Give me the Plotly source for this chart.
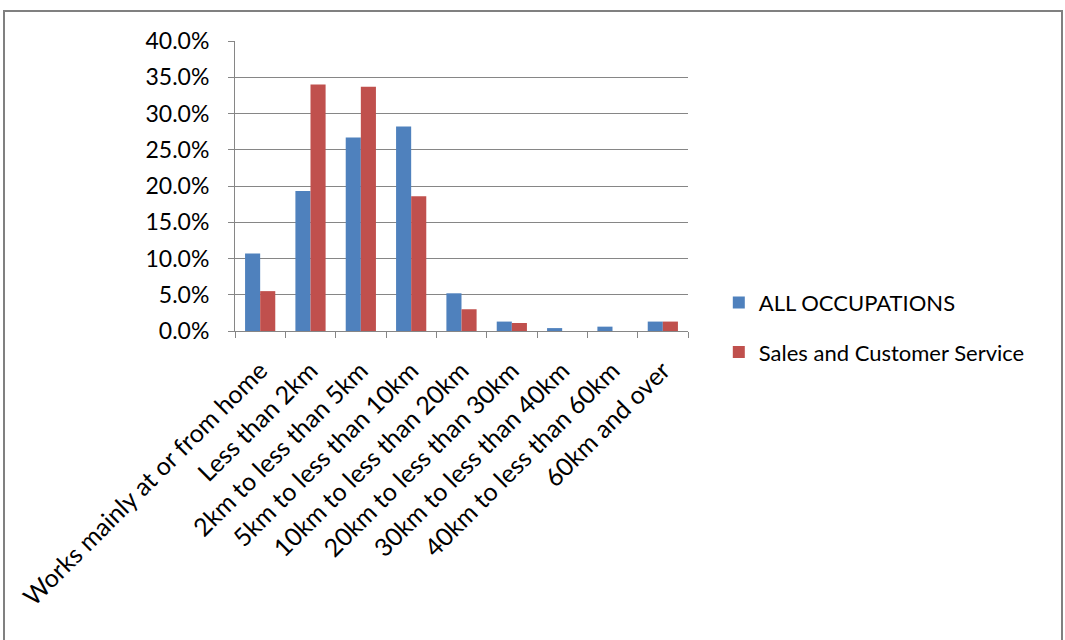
import plotly.graph_objects as go

categories = [
    "Works mainly at or from home",
    "Less than 2km",
    "2km to less than 5km",
    "5km to less than 10km",
    "10km to less than 20km",
    "20km to less than 30km",
    "30km to less than 40km",
    "40km to less than 60km",
    "60km and over",
]
all_occupations = [0.107, 0.193, 0.267, 0.282, 0.052, 0.013, 0.004, 0.006, 0.013]
sales_customer = [0.055, 0.340, 0.337, 0.186, 0.030, 0.011, 0.0, 0.0, 0.013]
y_ticks = [0, 0.05, 0.10, 0.15, 0.20, 0.25, 0.30, 0.35, 0.40]

FONT = "Lato"

fig = go.Figure()
fig.add_trace(go.Bar(
    x=categories, y=all_occupations, name="ALL OCCUPATIONS",
    marker=dict(color="#4F81BD", line=dict(width=0)),
    legendgroup="a",
))
fig.add_trace(go.Bar(
    x=categories, y=sales_customer, name="Sales and Customer Service",
    marker=dict(color="#C0504D", line=dict(width=0)),
    legendgroup="b",
))

fig.update_layout(
    width=1065, height=640,
    margin=dict(l=235, r=377, t=41, b=309),
    paper_bgcolor="white", plot_bgcolor="white",
    barmode="group", bargap=0.4, bargroupgap=0,
    font=dict(family=FONT, size=23, color="#000000"),
    showlegend=True,
    legend=dict(
        x=1.068, y=0.17, xanchor="left", yanchor="top",
        font=dict(family=FONT, size=22, color="#000000"),
        traceorder="grouped", tracegroupgap=18,
        bgcolor="rgba(0,0,0,0)",
    ),
    xaxis=dict(
        type="category", tickangle=-45,
        ticks="outside", tickson="boundaries", ticklen=6,
        tickcolor="#868686", showline=True, linecolor="#868686", linewidth=1,
        showgrid=False, ticklabelstandoff=14,
        tickfont=dict(family=FONT, size=25, color="#000000"),
    ),
    yaxis=dict(
        range=[0, 0.40], tickvals=y_ticks, tickformat=".1%",
        ticks="outside", ticklen=6, tickcolor="#868686",
        showline=True, linecolor="#868686", linewidth=1,
        showgrid=True, gridcolor="#868686", gridwidth=1,
        zeroline=False, ticklabelstandoff=14,
        tickfont=dict(family=FONT, size=23, color="#000000"),
    ),
    shapes=[dict(
        type="rect", xref="paper", yref="paper",
        x0=(4 - 235) / 453, x1=(1062 - 235) / 453,
        y0=(331 - 660) / 290, y1=(331 - 11) / 290,
        line=dict(color="#808080", width=2), fillcolor="rgba(0,0,0,0)",
        layer="below",
    )],
)

fig.write_html("out.html")
